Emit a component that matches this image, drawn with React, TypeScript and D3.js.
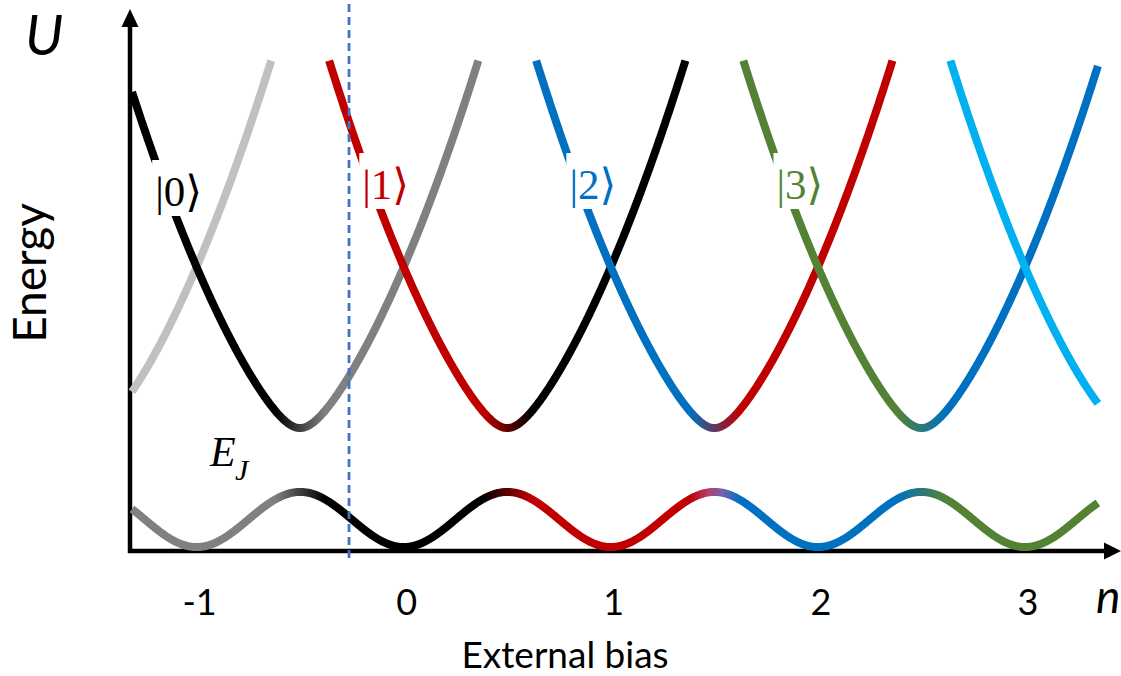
import React from "react";
import * as d3 from "d3";

// ---- data ----
const chargeStates = [-2, -1, 0, 1, 2, 3, 4];
const stateColors = ["#c0c0c0", "#808080", "#000000", "#c00000", "#0070c0", "#548235", "#00b0f0"];
const tickValues = [-1, 0, 1, 2, 3];
const tickLabels = ["-1", "0", "1", "2", "3"];
const labelStates = [0, 1, 2, 3];
const stateLabels = ["|0\u27E9", "|1\u27E9", "|2\u27E9", "|3\u27E9"];
const biasStart = -1.312;
const biasEnd = 3.352;
const chargingOffset = 0.15; // parabola floor
const couplingGap = 0.1; // anticrossing half-gap of upper band
const energyTop = 2.0; // where parabola arms stop
const bandFloor = 0.012; // lower band minimum
const bandHalfSwing = 0.113; // E_J / 2
const biasMarker = -0.264;
const blendHalfWidth = 0.12;

const W = 1121;
const H = 676;

const xScale = d3.scaleLinear().domain([-1, 3]).range([196.6, 1025]);
const yScale = d3.scaleLinear().domain([0, 2]).range([550, 62]);

const colorOf = (k: number) => stateColors[chargeStates.indexOf(k)];

// upper band of anticrossing between |m> and |m+1>
function upperV(n: number, m: number) {
  const a = (n - m) ** 2;
  const b = (n - m - 1) ** 2;
  const d = n - m - 0.5;
  return chargingOffset + (a + b) / 2 + Math.sqrt(d * d + couplingGap * couplingGap);
}
function lowerBand(n: number) {
  return bandFloor + bandHalfSwing * (1 - Math.cos(2 * Math.PI * n));
}

function sample(a: number, b: number, f: (n: number) => number) {
  const pts: [number, number][] = [];
  const steps = Math.max(2, Math.ceil((b - a) / 0.004));
  for (let i = 0; i <= steps; i++) {
    const n = a + ((b - a) * i) / steps;
    pts.push([n, f(n)]);
  }
  return pts;
}

const line = d3
  .line<[number, number]>()
  .x((d) => xScale(d[0]))
  .y((d) => yScale(d[1]))
  .curve(d3.curveLinear);

export default function App() {
  const arm = Math.sqrt(energyTop - chargingOffset);
  const vIdx = [-2, -1, 0, 1, 2, 3];
  const vs = vIdx
    .map((m) => {
      const a = Math.max(biasStart, m + 1 - arm);
      const b = Math.min(biasEnd, m + arm);
      if (b <= a) return null;
      return { m, d: line(sample(a, b, (n) => upperV(n, m))) as string, left: colorOf(m + 1), right: colorOf(m) };
    })
    .filter(Boolean) as { m: number; d: string; left: string; right: string }[];

  const lowerD = line(sample(biasStart, biasEnd, lowerBand)) as string;
  const lx1 = xScale(biasStart);
  const lx2 = xScale(biasEnd);
  const off = (n: number) => (xScale(n) - lx1) / (lx2 - lx1);
  const lowerStops: { o: number; c: string }[] = [];
  lowerStops.push({ o: 0, c: colorOf(-1) });
  [-1, 0, 1, 2].forEach((m) => {
    const c = m + 0.5;
    lowerStops.push({ o: off(c - blendHalfWidth), c: colorOf(m) });
    if (m === 1) {
      lowerStops.push({ o: off(c - 0.03), c: "#b53d68" });
      lowerStops.push({ o: off(c + 0.04), c: "#7462b2" });
    }
    lowerStops.push({ o: off(c + blendHalfWidth), c: colorOf(m + 1) });
  });
  lowerStops.push({ o: 1, c: colorOf(3) });

  const sans = "Lato, 'Open Sans', sans-serif";
  const serif = "'Liberation Serif', 'DejaVu Serif', serif";
  const axisY = 551;
  const axisX = 130;

  return (
    <svg width={W} height={H} style={{ position: "absolute", left: 0, top: 0, background: "#fff" }}>
      <defs>
        {vs.map((v) => (
          <linearGradient
            key={v.m}
            id={`vg${v.m + 10}`}
            gradientUnits="userSpaceOnUse"
            x1={xScale(v.m + 0.5 - blendHalfWidth)}
            x2={xScale(v.m + 0.5 + blendHalfWidth)}
            y1={0}
            y2={0}
          >
            <stop offset={0} stopColor={v.left} />
            <stop offset={1} stopColor={v.right} />
          </linearGradient>
        ))}
        <linearGradient id="lowg" gradientUnits="userSpaceOnUse" x1={lx1} x2={lx2} y1={0} y2={0}>
          {lowerStops.map((s, i) => (
            <stop key={i} offset={s.o} stopColor={s.c} />
          ))}
        </linearGradient>
      </defs>

      {/* axes */}
      <line x1={axisX} y1={axisY + 2} x2={axisX} y2={24} stroke="#000" strokeWidth={4.5} />
      <path d={`M${axisX - 8.5},27 L${axisX},9 L${axisX + 8.5},27 Z`} fill="#000" />
      <line x1={axisX - 2} y1={axisY} x2={1106} y2={axisY} stroke="#000" strokeWidth={4.5} />
      <path d={`M1104,${axisY - 8.5} L1121,${axisY} L1104,${axisY + 8.5} Z`} fill="#000" />

      {/* lower band */}
      <path d={lowerD} fill="none" stroke="url(#lowg)" strokeWidth={8} />

      {/* upper branches */}
      {vs.map((v) => (
        <path key={v.m} d={v.d} fill="none" stroke={`url(#vg${v.m + 10})`} strokeWidth={8} />
      ))}

      {/* state labels */}
      {labelStates.map((k, i) => {
        const tx = xScale(k - 1.2);
        const ty = k === 0 ? 206 : 199;
        return (
          <g key={k}>
            <rect x={tx - 3} y={ty - 46} width={51} height={56} fill="#fff" />
            <text x={tx} y={ty} fontFamily={serif} fontSize={43} fill={stateColors[chargeStates.indexOf(k)]}>
              {stateLabels[i]}
            </text>
          </g>
        );
      })}

      {/* E_J */}
      <text x={210} y={466} fontFamily={serif} fontStyle="italic" fontSize={42} fill="#000">
        E
      </text>
      <text x={235} y={480} fontFamily={serif} fontStyle="italic" fontSize={30} fill="#000">
        J
      </text>

      {/* dashed bias marker */}
      <line
        x1={xScale(biasMarker)}
        x2={xScale(biasMarker)}
        y1={4}
        y2={563}
        stroke="#4472c4"
        strokeWidth={2.8}
        strokeDasharray="8,5"
      />

      {/* tick labels */}
      {tickValues.map((t, i) => (
        <text key={t} x={xScale(t) + 3} y={615} textAnchor="middle" fontFamily={sans} fontSize={36} fill="#000">
          {tickLabels[i]}
        </text>
      ))}

      <text x={1096} y={613} fontFamily={sans} fontStyle="italic" fontSize={46} fill="#000">
        n
      </text>
      <text x={565} y={668} textAnchor="middle" fontFamily={sans} fontSize={37} fill="#000">
        External bias
      </text>
      <text x={25} y={55} fontFamily={sans} fontStyle="italic" fontSize={56} fill="#000">
        U
      </text>
      <text
        transform={`translate(46,273) rotate(-90)`}
        textAnchor="middle"
        fontFamily={sans}
        fontSize={46}
        fill="#000"
      >
        Energy
      </text>
    </svg>
  );
}
